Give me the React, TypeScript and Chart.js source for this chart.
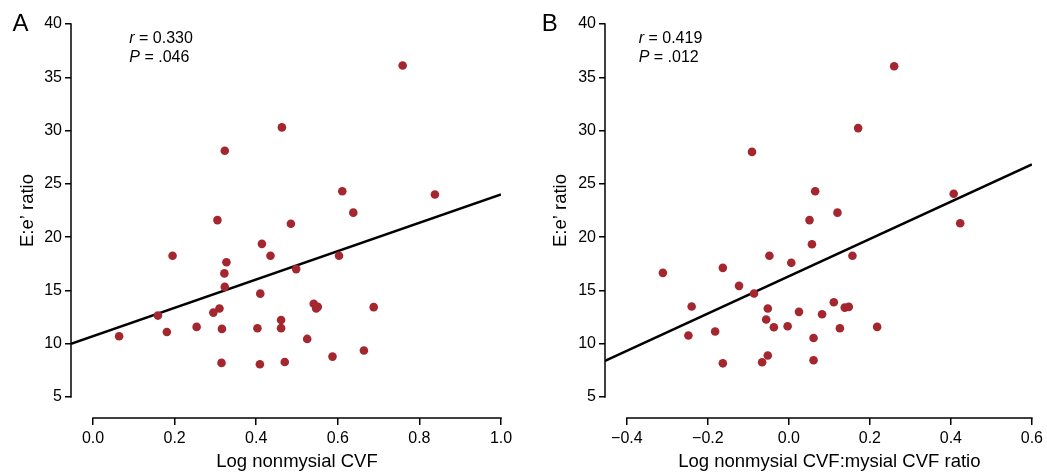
import React, { useEffect, useRef } from 'react';
import { Chart, registerables } from 'chart.js';

Chart.register(...registerables);

const FONT = '"Liberation Sans", Arial, Helvetica, sans-serif';
const RED = '#a4262f';

// ---- Data ----
const xA = [0.759, 0.463, 0.323, 0.611, 0.838, 0.638, 0.305, 0.485, 0.414, 0.195, 0.435, 0.603, 0.327, 0.322, 0.498, 0.323, 0.410, 0.159, 0.310, 0.295, 0.541, 0.547, 0.551, 0.688, 0.254, 0.181, 0.064, 0.316, 0.403, 0.461, 0.461, 0.525, 0.664, 0.587, 0.315, 0.409, 0.470];
const yA = [36.1, 30.3, 28.1, 24.3, 24.0, 22.3, 21.6, 21.25, 19.37, 18.25, 18.25, 18.25, 17.65, 16.6, 17.0, 15.33, 14.7, 12.64, 13.3, 12.92, 13.75, 13.3, 13.46, 13.43, 11.58, 11.1, 10.7, 11.39, 11.45, 12.23, 11.46, 10.45, 9.36, 8.79, 8.2, 8.07, 8.29];

const xB = [0.260, 0.171, -0.091, 0.065, 0.407, 0.120, 0.051, 0.423, 0.057, -0.048, 0.157, 0.006, -0.311, -0.163, -0.123, -0.086, -0.240, -0.052, 0.025, 0.082, 0.111, 0.138, 0.148, -0.056, -0.037, -0.003, 0.126, 0.218, -0.248, -0.182, 0.061, -0.052, 0.061, -0.163, -0.066];
const yB = [36.03, 30.23, 28.0, 24.3, 24.07, 22.3, 21.6, 21.3, 19.34, 18.25, 18.25, 17.59, 16.65, 17.12, 15.43, 14.71, 13.49, 13.3, 12.99, 12.77, 13.89, 13.39, 13.46, 12.27, 11.55, 11.64, 11.45, 11.58, 10.77, 11.14, 10.54, 8.89, 8.45, 8.16, 8.26];

// regression lines (endpoints in data units)
const fitAX = [-0.0539, 1.0];
const fitAY = [10.0, 24.0];
const fitBX = [-0.4539, 0.6];
const fitBY = [8.38, 26.83];

const yTicks = [5, 10, 15, 20, 25, 30, 35, 40];
const yTickLabels = ['5', '10', '15', '20', '25', '30', '35', '40'];
const xTicksA = [0, 0.2, 0.4, 0.6, 0.8, 1.0];
const xTickLabelsA = ['0.0', '0.2', '0.4', '0.6', '0.8', '1.0'];
const xTicksB = [-0.4, -0.2, 0, 0.2, 0.4, 0.6];
const xTickLabelsB = ['\u22120.4', '\u22120.2', '0.0', '0.2', '0.4', '0.6'];

const yTitle = 'E:e\u2019 ratio';
const xTitleA = 'Log nonmysial CVF';
const xTitleB = 'Log nonmysial CVF:mysial CVF ratio';
const statsA = ['0.330', '.046'];
const statsB = ['0.419', '.012'];

const Y_MIN = 3.03;
const Y_MAX = 40;

type PanelCfg = {
  left: number;
  width: number;
  axisW: number;
  padRight: number;
  xMin: number;
  xMax: number;
  xs: number[];
  ys: number[];
  fitX: number[];
  fitY: number[];
  xTicks: number[];
  xTickLabels: string[];
  xTitle: string;
  stats: string[];
  letter: string;
  letterX: number;
  annoX: number;
  yTitleX: number;
};

const panels: PanelCfg[] = [
  {
    left: 0, width: 527, axisW: 71, padRight: 26, xMin: -22 / 408, xMax: 1.0,
    xs: xA, ys: yA, fitX: fitAX, fitY: fitAY, xTicks: xTicksA, xTickLabels: xTickLabelsA,
    xTitle: xTitleA, stats: statsA, letter: 'A', letterX: 12.5, annoX: 129.3, yTitleX: 33.3,
  },
  {
    left: 527, width: 520, axisW: 78, padRight: 12, xMin: -0.4 - 22 / 408, xMax: 0.6,
    xs: xB, ys: yB, fitX: fitBX, fitY: fitBY, xTicks: xTicksB, xTickLabels: xTickLabelsB,
    xTitle: xTitleB, stats: statsB, letter: 'B', letterX: 14.7, annoX: 111.7, yTitleX: 39.3,
  },
];

function makeDecor(cfg: PanelCfg) {
  return {
    id: 'decor' + cfg.letter,
    afterDraw(chart: any) {
      const { ctx, chartArea, scales } = chart;
      const x = scales.x;
      const y = scales.y;
      ctx.save();
      ctx.strokeStyle = '#000';
      ctx.lineWidth = 1.5;
      const yTop = y.getPixelForValue(yTicks[yTicks.length - 1]);
      const yBot = y.getPixelForValue(yTicks[0]);
      ctx.beginPath();
      ctx.moveTo(chartArea.left, yTop - 0.75);
      ctx.lineTo(chartArea.left, yBot + 0.75);
      ctx.stroke();
      const x0 = x.getPixelForValue(cfg.xTicks[0]);
      const x1 = x.getPixelForValue(cfg.xTicks[cfg.xTicks.length - 1]);
      ctx.beginPath();
      ctx.moveTo(x0 - 0.75, chartArea.bottom);
      ctx.lineTo(x1 + 0.75, chartArea.bottom);
      ctx.stroke();

      ctx.fillStyle = '#000';
      ctx.textAlign = 'left';
      ctx.textBaseline = 'alphabetic';

      // panel letter
      ctx.font = `24px ${FONT}`;
      ctx.fillText(cfg.letter, cfg.letterX, 30.5);

      // statistics annotation
      const rows: [string, string][] = [
        ['r', ' = ' + cfg.stats[0]],
        ['P', ' = ' + cfg.stats[1]],
      ];
      const baselines = [43.3, 61.7];
      rows.forEach(([ital, rest], i) => {
        ctx.font = `italic 16px ${FONT}`;
        ctx.fillText(ital, cfg.annoX, baselines[i]);
        const w = ctx.measureText(ital).width;
        ctx.font = `16px ${FONT}`;
        ctx.fillText(rest, cfg.annoX + w, baselines[i]);
      });

      // axis titles
      ctx.font = `18.5px ${FONT}`;
      ctx.textAlign = 'center';
      ctx.fillText(cfg.xTitle, (x0 + x1) / 2, 466.5);

      ctx.save();
      ctx.translate(cfg.yTitleX, (yTop + yBot) / 2);
      ctx.rotate(-Math.PI / 2);
      ctx.fillText(yTitle, 0, 0);
      ctx.restore();

      ctx.restore();
    },
  };
}

function Panel({ cfg }: { cfg: PanelCfg }) {
  const ref = useRef<HTMLCanvasElement>(null);
  useEffect(() => {
    if (!ref.current) return;
    const chart = new Chart(ref.current, {
      type: 'scatter',
      data: {
        datasets: [
          {
            data: cfg.xs.map((v, i) => ({ x: v, y: cfg.ys[i] })),
            backgroundColor: RED,
            borderColor: RED,
            borderWidth: 0,
            pointRadius: 4.3,
            pointHoverRadius: 4.3,
            order: 0,
          },
          {
            data: cfg.fitX.map((v, i) => ({ x: v, y: cfg.fitY[i] })),
            showLine: true,
            borderColor: '#000',
            borderWidth: 2.5,
            pointRadius: 0,
            pointHoverRadius: 0,
            order: 1,
          } as any,
        ],
      },
      options: {
        responsive: false,
        animation: false,
        devicePixelRatio: 1,
        events: [],
        layout: { padding: { left: 0, right: cfg.padRight, top: 24, bottom: 0 } },
        plugins: {
          legend: { display: false },
          tooltip: { enabled: false },
        },
        scales: {
          x: {
            type: 'linear',
            min: cfg.xMin,
            max: cfg.xMax,
            afterFit: (s: any) => { s.height = 54; },
            afterBuildTicks: (a: any) => { a.ticks = cfg.xTicks.map((v) => ({ value: v })); },
            ticks: {
              callback: (_v: any, i: number) => cfg.xTickLabels[i],
              font: { family: FONT, size: 16 },
              color: '#000',
              padding: 4,
              maxRotation: 0,
              autoSkip: false,
            },
            grid: { display: true, drawOnChartArea: false, drawTicks: true, tickLength: 7, color: '#000', lineWidth: 1.5 },
            border: { display: false },
          },
          y: {
            type: 'linear',
            min: Y_MIN,
            max: Y_MAX,
            afterFit: (s: any) => { s.width = cfg.axisW; },
            afterBuildTicks: (a: any) => { a.ticks = yTicks.map((v) => ({ value: v })); },
            ticks: {
              callback: (_v: any, i: number) => yTickLabels[i],
              font: { family: FONT, size: 16 },
              color: '#000',
              padding: 3,
              autoSkip: false,
            },
            grid: { display: true, drawOnChartArea: false, drawTicks: true, tickLength: 6, color: '#000', lineWidth: 1.5 },
            border: { display: false },
          },
        },
      } as any,
      plugins: [makeDecor(cfg)],
    });
    return () => chart.destroy();
  }, [cfg]);
  return (
    <canvas
      ref={ref}
      width={cfg.width}
      height={472}
      style={{ position: 'absolute', left: cfg.left, top: 0, width: cfg.width, height: 472, display: 'block' }}
    />
  );
}

export default function App() {
  return (
    <div style={{ position: 'absolute', left: 0, top: 0, width: 1047, height: 472, background: '#fff', overflow: 'hidden' }}>
      {panels.map((p) => (
        <Panel key={p.letter} cfg={p} />
      ))}
    </div>
  );
}
